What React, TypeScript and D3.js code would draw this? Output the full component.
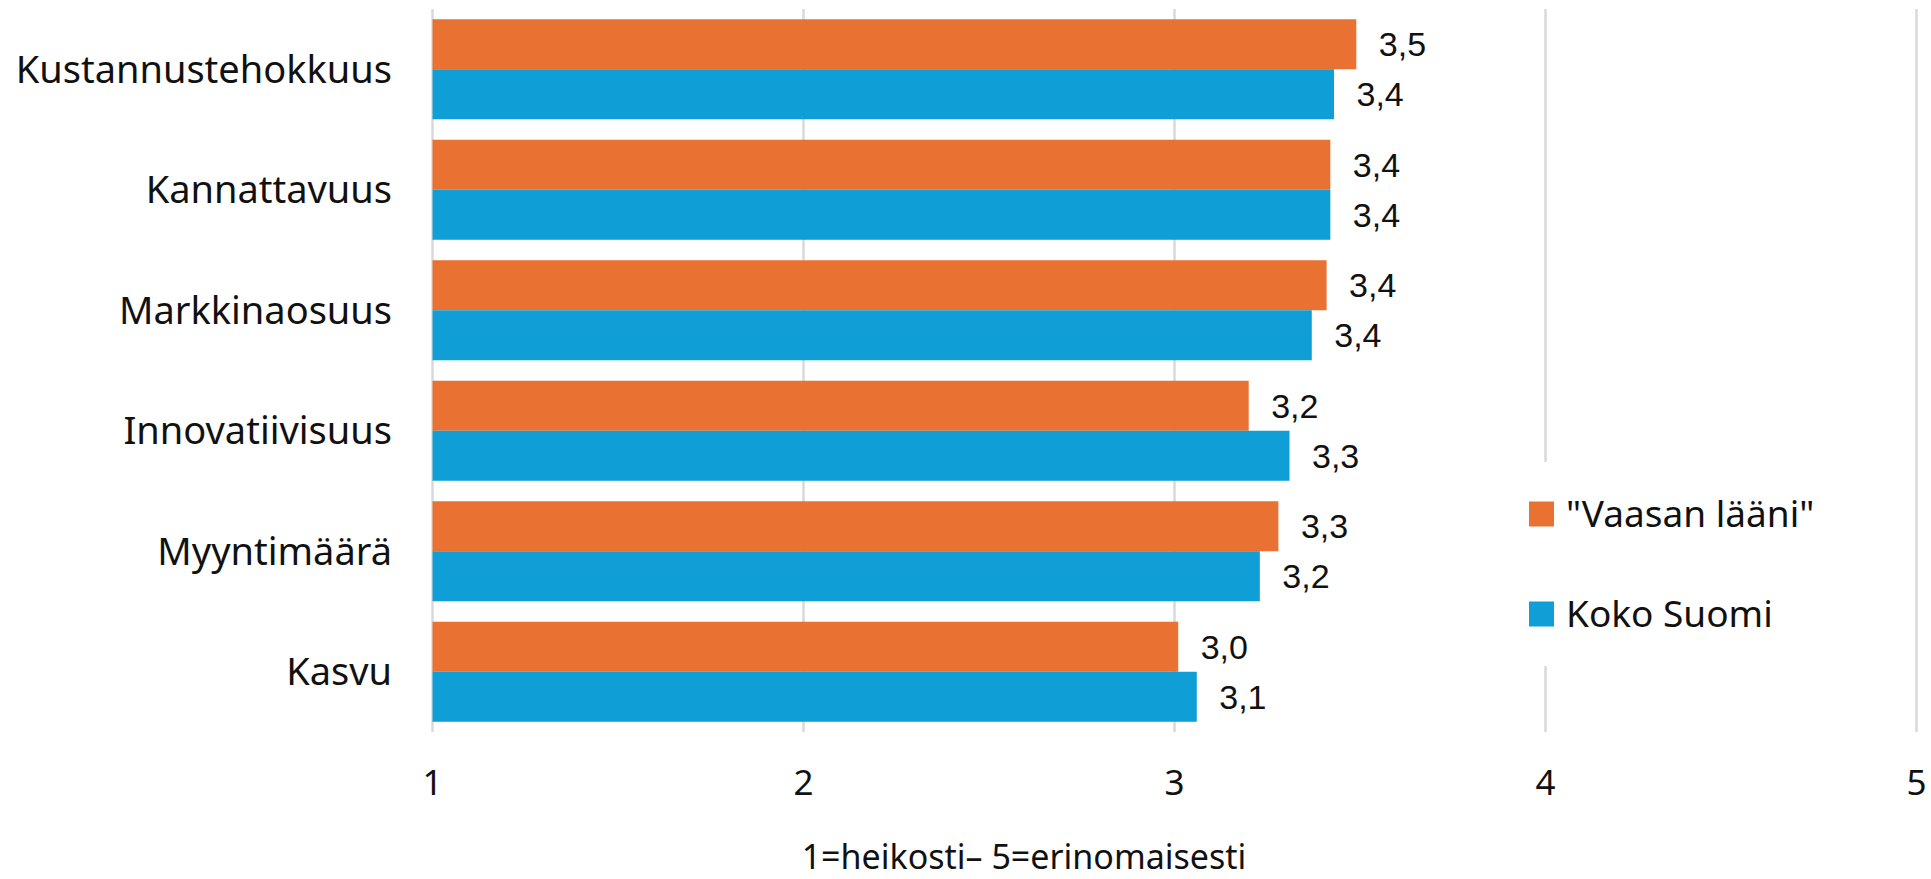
import * as React from 'react';
import { scaleLinear, scaleBand } from 'd3';

const categories = ['Kustannustehokkuus', 'Kannattavuus', 'Markkinaosuus', 'Innovatiivisuus', 'Myyntimäärä', 'Kasvu'];
const seriesNames = ['"Vaasan lääni"', 'Koko Suomi'];
const vaasa = [3.49, 3.42, 3.41, 3.2, 3.28, 3.01];
const kokoSuomi = [3.43, 3.42, 3.37, 3.31, 3.23, 3.06];
const xTicks = [1, 2, 3, 4, 5];
const axisTitle = '1=heikosti– 5=erinomaisesti';

const COLORS = ['#E97132', '#0F9ED5'];
const W = 1931;
const H = 879;
const SANS = '"Noto Sans", sans-serif';
const ARIAL = '"Liberation Sans", Arial, sans-serif';

const fmt = (v: number) => v.toFixed(1).replace('.', ',');

export default function App() {
  const x = scaleLinear().domain([1, 5]).range([432.5, 1916.5]);
  const y = scaleBand<string>().domain(categories).range([9, 732]);
  const bw = y.bandwidth();
  const barH = bw * 0.415;
  const series = [vaasa, kokoSuomi];

  return (
    <svg width={W} height={H} style={{ position: 'absolute', left: 0, top: 0, background: '#fff' }}>
      {/* gridlines */}
      {xTicks.map(t => (
        <line key={t} x1={x(t)} x2={x(t)} y1={9} y2={732} stroke="#d9d9d9" strokeWidth={2.5} />
      ))}

      {/* bars + labels */}
      {categories.map((c, i) => {
        const top = (y(c) ?? 0) + (bw - 2 * barH) / 2;
        return (
          <g key={c}>
            {series.map((s, k) => (
              <g key={k}>
                <rect x={x(1)} y={top + k * barH} width={x(s[i]) - x(1)} height={barH} fill={COLORS[k]} />
                <text
                  x={x(s[i]) + 22.5}
                  y={top + k * barH + barH / 2}
                  dy="0.36em"
                  fontFamily={ARIAL}
                  fontSize={34}
                  fill="#111"
                >
                  {fmt(s[i])}
                </text>
              </g>
            ))}
            <text
              x={392}
              y={(y(c) ?? 0) + bw / 2}
              dy="0.36em"
              textAnchor="end"
              fontFamily={SANS}
              fontSize={38}
              fill="#111"
            >
              {c}
            </text>
          </g>
        );
      })}

      {/* x tick labels */}
      {xTicks.map(t => (
        <text key={t} x={x(t)} y={795} textAnchor="middle" fontFamily={SANS} fontSize={35} fill="#111">
          {t}
        </text>
      ))}

      <text x={1024} y={869} textAnchor="middle" fontFamily={SANS} fontSize={34} fill="#111">
        {axisTitle}
      </text>

      {/* legend */}
      <rect x={1515} y={462} width={390} height={204} fill="#fff" />
      {seriesNames.map((n, k) => (
        <g key={n} transform={`translate(1529, ${514 + k * 100})`}>
          <rect x={0} y={-12.5} width={25} height={25} fill={COLORS[k]} />
          <text x={37} y={0} dy="0.36em" fontFamily={SANS} fontSize={37} fill="#111">
            {n}
          </text>
        </g>
      ))}
    </svg>
  );
}
